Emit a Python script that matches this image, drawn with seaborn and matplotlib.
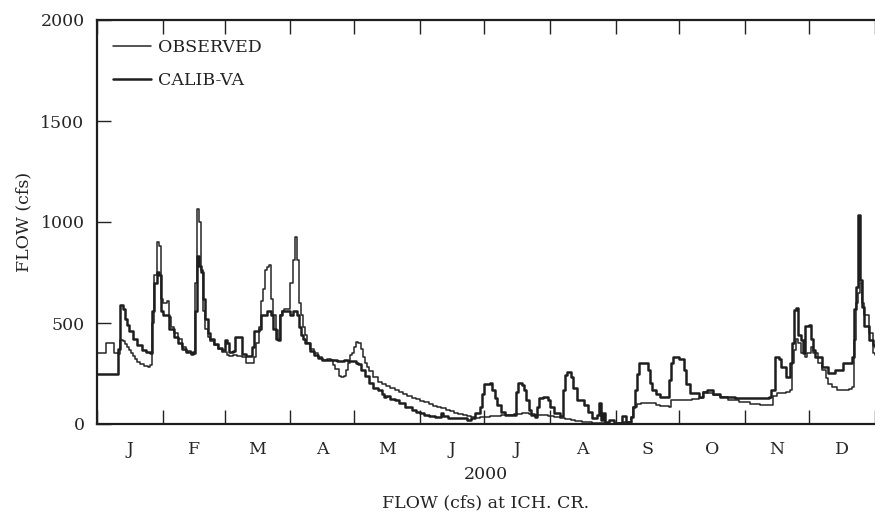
import matplotlib
matplotlib.use("Agg")
import matplotlib.pyplot as plt
import seaborn as sns
import pandas as pd

# ---- data (day of year 2000, flow in cfs) ----
obs_day = [0,3,4,7,8,10,11,12,13,14,15,16,17,18,19,20,22,24,25,26,27,28,29,30,31,33,34,35,36,38,40,42,44,45,46,47,48,49,50,51,52,53,55,57,59,
           61,62,64,66,68,70,72,74,75,76,77,78,79,80,81,82,83,84,85,86,87,88,90,91,92,93,94,95,96,97,98,99,100,102,104,106,108,110,111,112,114,115,116,117,118,119,120,
           121,122,123,124,125,126,127,128,130,132,134,136,138,140,142,144,146,148,150,152,154,156,158,160,162,164,166,168,170,172,174,176,178,180,185,190,196,200,203,206,
           212,215,218,220,223,225,228,230,233,235,240,245,248,251,252,254,256,260,263,265,269,270,275,280,283,285,287,290,293,297,302,307,312,316,318,320,324,326,327,328,
           329,330,331,333,334,336,337,339,341,343,344,346,348,352,354,355,356,357,358,359,360,361,363,365,366]
obs_flow = [350,350,400,400,350,345,416,410,395,380,365,350,335,320,305,295,285,284,290,500,740,900,880,620,600,610,530,480,450,420,380,360,350,355,700,1063,1000,760,560,470,430,410,390,370,355,
            340,335,340,335,330,300,300,330,400,480,610,670,760,779,787,620,540,465,416,540,560,570,570,700,811,927,811,600,540,480,440,400,370,350,330,317,320,317,290,270,240,234,240,267,300,340,350,
            380,406,400,370,330,300,280,260,234,210,200,190,180,168,160,150,140,130,124,115,109,100,90,85,78,70,62,55,50,45,40,35,32,35,40,45,48,55,50,45,
            40,35,28,25,18,15,10,8,5,3,2,3,8,36,85,100,102,102,95,90,85,119,119,122,127,160,155,145,135,120,110,100,95,95,140,152,160,168,300,366,
            420,400,350,330,350,383,350,300,267,230,200,184,168,168,175,185,416,597,650,700,600,540,449,350,340]

cal_day = [0,9,10,11,12,13,14,15,17,19,21,23,25,26,27,28,29,30,31,33,34,36,38,40,42,44,45,46,47,48,49,50,51,52,53,55,57,59,
           60,61,62,64,65,67,68,70,72,73,74,76,77,79,80,82,83,84,85,86,87,89,91,92,93,94,95,96,97,98,100,102,104,106,110,113,116,118,120,
           122,123,124,126,128,130,132,134,135,136,138,140,142,145,148,150,152,154,156,159,162,163,165,170,174,176,178,180,181,182,185,186,187,188,190,192,196,
           197,198,200,201,202,203,204,206,207,208,210,212,213,215,218,219,220,221,223,224,226,229,231,233,235,236,237,238,239,241,243,245,247,249,
           251,252,253,254,255,258,259,260,261,263,265,268,269,270,271,273,274,276,277,279,283,285,287,290,293,300,310,316,317,319,321,322,324,326,
           327,328,329,330,331,332,333,335,336,337,338,341,344,347,351,355,356,357,358,359,360,361,363,365,366]
cal_flow = [250,250,370,590,570,520,490,460,420,390,365,355,350,560,700,754,740,560,540,540,470,430,400,370,355,345,350,560,830,780,754,620,520,450,420,395,375,365,
            416,400,355,360,432,432,345,335,335,380,460,470,540,540,560,540,470,420,416,540,560,560,540,560,560,540,480,440,420,400,360,340,325,317,317,310,317,310,310,
            300,295,267,240,201,180,168,150,135,140,125,118,105,85,70,61,52,44,40,36,53,40,28,28,20,30,53,85,150,200,201,168,127,94,61,45,45,
            160,201,193,168,119,69,45,36,85,127,135,120,85,53,40,168,243,259,234,176,119,94,61,28,45,102,20,53,10,20,5,3,40,10,
            36,85,168,250,300,300,267,201,168,150,135,135,217,300,333,333,320,267,200,152,135,160,168,150,135,127,130,135,168,333,320,283,234,300,
            400,564,572,440,416,350,485,490,420,366,333,284,251,267,300,333,567,680,1034,713,580,485,416,390,380]

month_starts = [0, 31, 60, 91, 121, 152, 182, 213, 244, 274, 305, 335, 366]
month_labels = ["J", "F", "M", "A", "M", "J", "J", "A", "S", "O", "N", "D"]
y_ticks = [0, 500, 1000, 1500, 2000]

df = pd.concat([
    pd.DataFrame({"day": obs_day, "flow": obs_flow, "series": "OBSERVED"}),
    pd.DataFrame({"day": cal_day, "flow": cal_flow, "series": "CALIB-VA"}),
])

sns.set_theme(style="white")
plt.rcParams["font.family"] = ["DejaVu Serif"]

fig = plt.figure(figsize=(8.75, 5.25), dpi=100)
ax = fig.add_axes([97/875, 1 - 424/525, (875 - 97)/875, (424 - 20)/525])

sns.lineplot(data=df[df.series == "OBSERVED"], x="day", y="flow", ax=ax,
             color="#262626", lw=1.1, drawstyle="steps-post", estimator=None,
             sort=False, label="OBSERVED")
sns.lineplot(data=df[df.series == "CALIB-VA"], x="day", y="flow", ax=ax,
             color="#1e1e1e", lw=1.8, drawstyle="steps-post", estimator=None,
             sort=False, label="CALIB-VA")

ax.set_xlim(0, 366)
ax.set_ylim(0, 2000)
ax.set_xticks(month_starts)
ax.set_xticklabels([])
mids = [(month_starts[i] + month_starts[i + 1]) / 2 for i in range(12)]
ax.set_xticks(mids, minor=True)
ax.set_xticklabels(month_labels, minor=True, fontsize=12.5)
ax.tick_params(axis="x", which="major", direction="in", length=10, width=1,
               top=True, bottom=True, color="#222222")
ax.tick_params(axis="x", which="minor", length=0, pad=12)
ax.set_yticks(y_ticks)
ax.set_yticklabels([str(v) for v in y_ticks], fontsize=12.5)
ax.tick_params(axis="y", direction="in", length=10, width=1, left=True,
               right=False, pad=9, color="#222222")

for side in ["left", "bottom", "top"]:
    ax.spines[side].set_color("#1e1e1e")
    ax.spines[side].set_linewidth(1.6)
ax.spines["right"].set_visible(False)

ax.set_xlabel("2000\nFLOW (cfs) at ICH. CR.", fontsize=12.5, linespacing=1.9,
              labelpad=6, color="#222222")
ax.set_ylabel("FLOW (cfs)", fontsize=12.5, labelpad=6, color="#222222")

leg = ax.legend(loc="upper left", bbox_to_anchor=(0.02, 0.953), frameon=False,
                fontsize=12.5, handlelength=2.2, handletextpad=0.4,
                labelspacing=0.9, borderpad=0, borderaxespad=0)
for t in leg.get_texts():
    t.set_color("#222222")

fig.savefig("out.png", dpi=100)
